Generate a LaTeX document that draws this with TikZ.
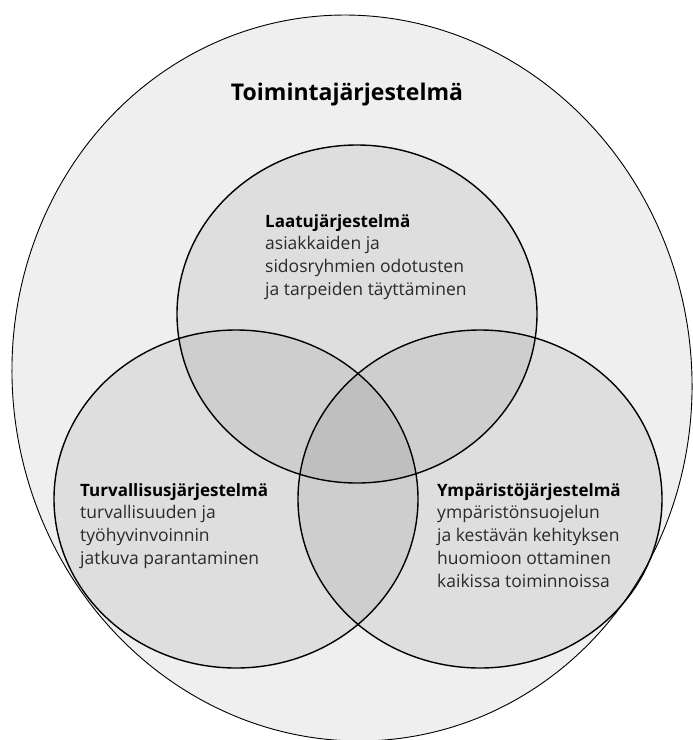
\documentclass[tikz,border=0pt]{standalone}
\usepackage{fontspec}
\setmainfont{Open Sans}
\begin{document}
\begin{tikzpicture}[x=1pt,y=-1pt,
  outerline/.style={draw=black,line width=0.9pt,fill=outerfill},
  setfill/.style={fill=black,fill opacity=0.07},
  setline/.style={draw=black,line width=1.4pt},
  blocktext/.style={anchor=north west,inner sep=0pt,align=left,text=bodytext,
    font=\fontsize{17.5}{22.8}\selectfont},
  titletext/.style={inner sep=0pt,font=\fontsize{23}{27}\selectfont\bfseries}]
\definecolor{outerfill}{HTML}{EFEFEF}
\definecolor{bodytext}{HTML}{2A2A2A}
\useasboundingbox (0,0) rectangle (693,740);
\fill[white] (0,0) rectangle (693,740);
% outer system
\path[outerline] plot[domain=0:359, samples=180, smooth cycle, variable=\t]
  ({352+340*cos(\t)+0.02*363*sin(\t)},{378+363*sin(\t)});
% fills of the three systems
\fill[setfill] (357,314) ellipse [x radius=180, y radius=169];
\fill[setfill] (236,499) ellipse [x radius=182, y radius=169];
\fill[setfill] (480,499) ellipse [x radius=182, y radius=169];
% outlines
\draw[setline] (357,314) ellipse [x radius=180, y radius=169];
\draw[setline] (236,499) ellipse [x radius=182, y radius=169];
\draw[setline] (480,499) ellipse [x radius=182, y radius=169];
% texts
\node[titletext] (title) at (347,95) {Toimintajärjestelmä};
\node[blocktext] (laatu) at (265,214) {{\fontsize{17}{22.8}\selectfont\bfseries\color{black}Laatujärjestelmä}\\asiakkaiden ja\\sidosryhmien odotusten\\ja tarpeiden täyttäminen};
\node[blocktext] (turva) at (80,483) {{\fontsize{17}{22.8}\selectfont\bfseries\color{black}Turvallisusjärjestelmä}\\turvallisuuden ja\\työhyvinvoinnin\\jatkuva parantaminen};
\node[blocktext] (ymparisto) at (437,483) {{\fontsize{17}{22.8}\selectfont\bfseries\color{black}Ympäristöjärjestelmä}\\ympäristönsuojelun\\ja kestävän kehityksen\\huomioon ottaminen\\kaikissa toiminnoissa};
\end{tikzpicture}
\end{document}
